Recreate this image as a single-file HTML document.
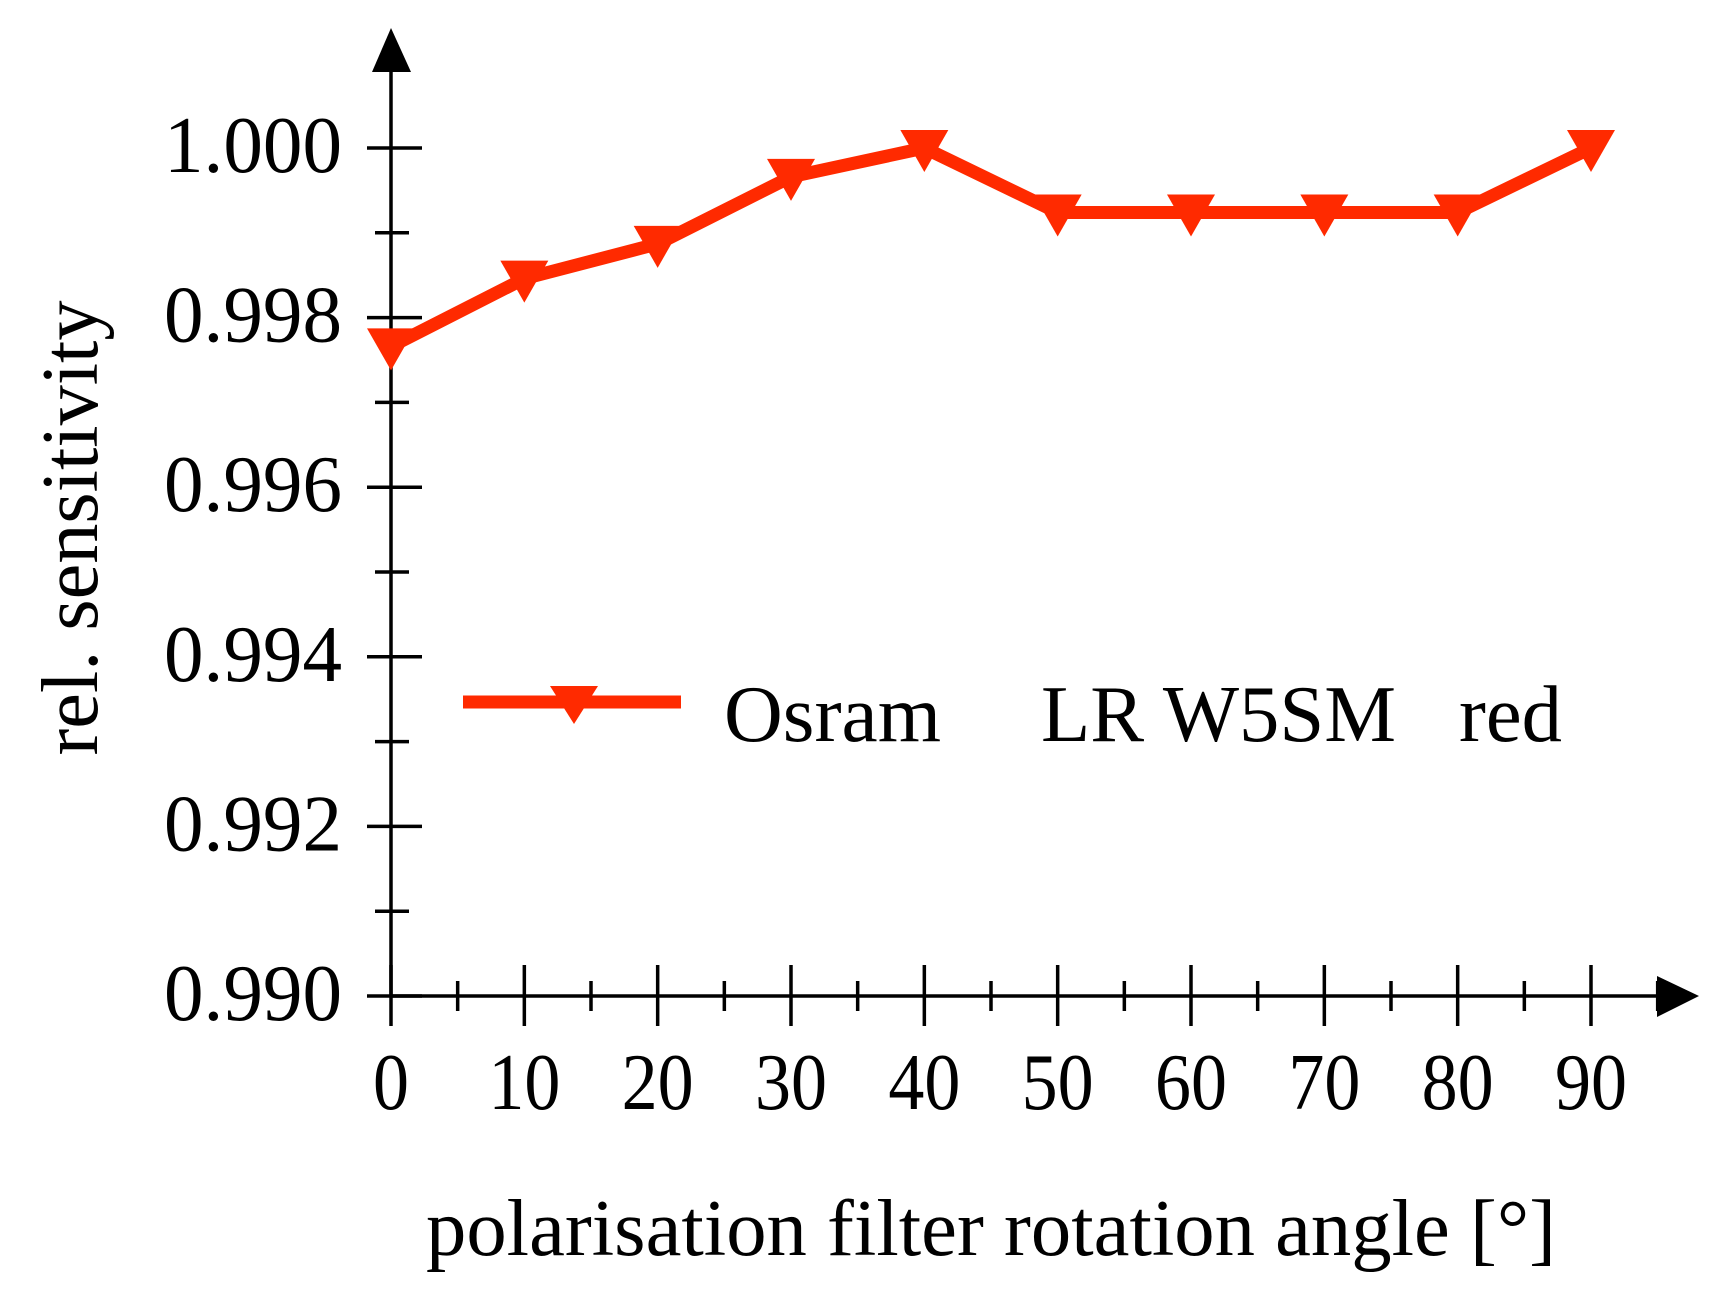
<!DOCTYPE html>
<html><head><meta charset="utf-8"><style>
html,body{margin:0;padding:0;background:#fff;}
svg text{font-family:"Liberation Serif",serif;fill:#000;}
</style></head><body>
<svg id="chart" width="1735" height="1299" xmlns="http://www.w3.org/2000/svg">
<g id="axes"></g>
<g id="series"></g>
<g>
<line x1="463" y1="702" x2="681" y2="702" stroke="#ff2a00" stroke-width="13"/>
<path d="M550,686 L598,686 L574,724 Z" fill="#ff2a00"/>
<text x="724" y="741" font-size="80" textLength="217" lengthAdjust="spacingAndGlyphs">Osram</text>
<text x="1041" y="741" font-size="80" textLength="355" lengthAdjust="spacingAndGlyphs">LR W5SM</text>
<text x="1459" y="741" font-size="80" textLength="103" lengthAdjust="spacingAndGlyphs">red</text>
</g>
<text transform="translate(97,528) rotate(-90)" text-anchor="middle" font-size="80" textLength="455" lengthAdjust="spacingAndGlyphs">rel. sensitivity</text>
<text x="426" y="1255" font-size="80" textLength="1130" lengthAdjust="spacingAndGlyphs">polarisation filter rotation angle [°]</text>
</svg>
<script>
const angles=[0,10,20,30,40,50,60,70,80,90];
const sensitivity=[0.99766,0.99846,0.99887,0.99966,1.0000,0.99924,0.99924,0.99924,0.99924,1.0000];
const yTicks=[0.990,0.992,0.994,0.996,0.998,1.000];
const yTickLabels=["0.990","0.992","0.994","0.996","0.998","1.000"];
const xTicks=[0,10,20,30,40,50,60,70,80,90];
const NS="http://www.w3.org/2000/svg";
const xs=v=>391+(v/90)*(1591-391);
const ys=v=>996-((v-0.990)/0.010)*(996-148);
function mk(tag,attrs,parent){const e=document.createElementNS(NS,tag);for(const k in attrs)e.setAttribute(k,attrs[k]);parent.appendChild(e);return e;}
const ax=document.getElementById('axes');
let e;
e=mk('line',{x1:391,y1:996,x2:391,y2:60,stroke:'#000','stroke-width':3.5},ax);


e=mk('path',{d:'M391,28 L372,72 L411,72 Z',fill:'#000'},ax);


e=mk('line',{x1:391,y1:996,x2:1665,y2:996,stroke:'#000','stroke-width':3.5},ax);


e=mk('path',{d:'M1699,996 L1657,976 L1657,1017 Z',fill:'#000'},ax);


yTicks.forEach((t,i)=>{
  const y=ys(t);
  e=mk('line',{x1:367,y1:y,x2:422,y2:y,stroke:'#000','stroke-width':3.5},ax);
  
  
  e=mk('text',{x:342,y:y+24,'text-anchor':'end','font-size':80,textLength:178,lengthAdjust:'spacingAndGlyphs'},ax);
  e.textContent=yTickLabels[i];
  
  
  if(i<yTicks.length-1){
    const ym=ys(t+0.001);
    e=mk('line',{x1:375,y1:ym,x2:409,y2:ym,stroke:'#000','stroke-width':3.5},ax);
    
    
  }
});
xTicks.forEach((t,i)=>{
  const x=xs(t);
  e=mk('line',{x1:x,y1:965,x2:x,y2:1026,stroke:'#000','stroke-width':3.5},ax);
  
  
  e=mk('text',{x:x,y:1109,'text-anchor':'middle','font-size':80,textLength:String(t).length*36,lengthAdjust:'spacingAndGlyphs'},ax);
  e.textContent=String(t);
  
  
  const xm=xs(t+5);
  e=mk('line',{x1:xm,y1:981,x2:xm,y2:1011,stroke:'#000','stroke-width':3.5},ax);
  
  
});
const sg=document.getElementById('series');
const pts=angles.map((a,i)=>xs(a)+','+ys(sensitivity[i])).join(' ');
e=mk('polyline',{points:pts,fill:'none',stroke:'#ff2a00','stroke-width':13,'stroke-linejoin':'miter'},sg);


angles.forEach((a,i)=>{
  const x=xs(a),y=ys(sensitivity[i]);
  e=mk('path',{d:`M${x-24},${y-18} L${x+24},${y-18} L${x},${y+24} Z`,fill:'#ff2a00'},sg);
  
  
});
</script>
</body></html>
